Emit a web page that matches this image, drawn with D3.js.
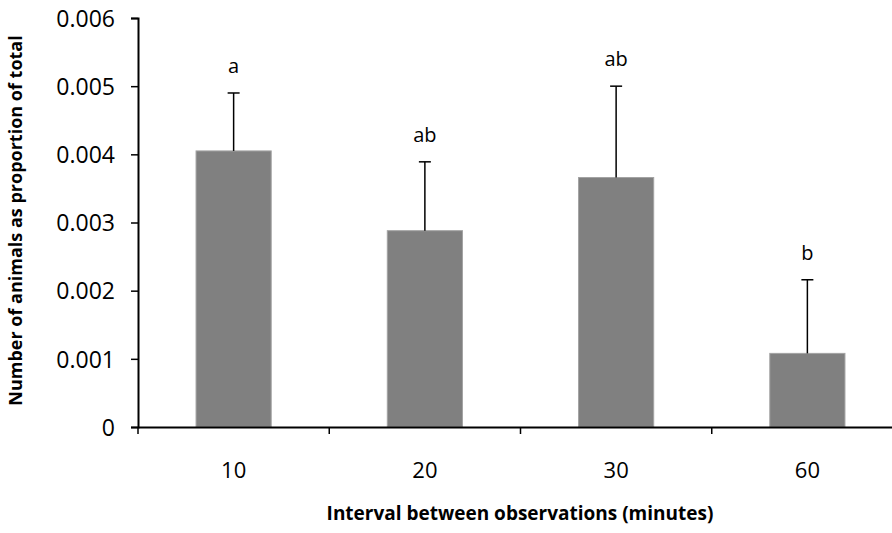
<!DOCTYPE html>
<html>
  <head>
    <title>interval bar chart</title>
    <style>
      body { margin: 0; background: #fff; }
      text { font-family: "Open Sans", sans-serif; fill: #000; }
    </style>
  </head>
  <body>
    <script src="https://cdn.jsdelivr.net/npm/d3@7"></script>
    <script>
      var categories = ["10", "20", "30", "60"];
      var means = [0.00405, 0.00288, 0.00366, 0.00108];
      var errors = [0.00085, 0.00101, 0.00134, 0.00108];
      var letters = ["a", "ab", "ab", "b"];
      var yTicks = [0, 0.001, 0.002, 0.003, 0.004, 0.005, 0.006];

      var w = 892, h = 533;
      var mLeft = 138, mTop = 18, mBottom = 427, mRight = 903;

      var svg = d3.select('body').append('svg').attr('width', w).attr('height', h);

      var x = d3.scaleBand().domain(categories).range([mLeft, mRight])
        .paddingInner(0.607).paddingOuter(0.3035);
      var y = d3.scaleLinear().domain([0, 0.006]).range([mBottom, mTop]);

      // bars
      svg.selectAll("rect.bar").data(means).enter().append("rect")
        .attr("class", "bar")
        .attr("x", function(d, i){ return x(categories[i]); })
        .attr("width", x.bandwidth())
        .attr("y", function(d){ return y(d); })
        .attr("height", function(d){ return y(0) - y(d); })
        .style("fill", "#808080")
        .style("stroke", "#a3a3a3")
        .style("stroke-width", 1);

      // error bars (upper only)
      var cx = function(i){ return x(categories[i]) + x.bandwidth() / 2; };
      var eb = svg.selectAll("g.err").data(means).enter().append("g").attr("class", "err");
      eb.append("line")
        .attr("x1", function(d, i){ return cx(i); })
        .attr("x2", function(d, i){ return cx(i); })
        .attr("y1", function(d){ return y(d); })
        .attr("y2", function(d, i){ return y(d + errors[i]); })
        .style("stroke", "#000").style("stroke-width", 1.5);
      eb.append("line")
        .attr("x1", function(d, i){ return cx(i) - 6; })
        .attr("x2", function(d, i){ return cx(i) + 6; })
        .attr("y1", function(d, i){ return y(d + errors[i]); })
        .attr("y2", function(d, i){ return y(d + errors[i]); })
        .style("stroke", "#000").style("stroke-width", 1.5);

      // significance letters
      svg.selectAll("text.letter").data(letters).enter().append("text")
        .attr("class", "letter")
        .attr("x", function(d, i){ return cx(i); })
        .attr("y", function(d, i){ return y(means[i] + errors[i]) - 20; })
        .attr("text-anchor", "middle")
        .style("font-size", "20px")
        .text(function(d){ return d; });

      // y axis
      var yAxis = svg.append("g").attr("transform", "translate(" + mLeft + ",0)")
        .call(d3.axisLeft(y).tickValues(yTicks).tickSizeOuter(0).tickSize(7).tickPadding(16)
          .tickFormat(function(d){ return d === 0 ? "0" : d3.format(".3f")(d); }));
      yAxis.select(".domain").style("stroke", "#000").style("stroke-width", 2);
      yAxis.selectAll(".tick line").style("stroke", "#000").style("stroke-width", 1.5);
      yAxis.selectAll(".tick text").style("font-size", "23px").attr("dy", "0.36em");

      // x axis
      var xAxis = svg.append("g").attr("transform", "translate(0," + mBottom + ")")
        .call(d3.axisBottom(x).tickSize(0).tickPadding(35));
      xAxis.select(".domain").style("stroke", "#000").style("stroke-width", 2);
      xAxis.selectAll(".tick text").style("font-size", "22px");

      // tick marks between categories
      var bounds = d3.range(categories.length).map(function(i){ return x.range()[0] + i * x.step(); });
      svg.selectAll("line.xtick").data(bounds).enter().append("line")
        .attr("class", "xtick")
        .attr("x1", function(d){ return d; }).attr("x2", function(d){ return d; })
        .attr("y1", mBottom).attr("y2", mBottom + 7)
        .style("stroke", "#000").style("stroke-width", 1.5);

      // axis titles
      svg.append("text")
        .attr("x", 520).attr("y", 520)
        .attr("text-anchor", "middle")
        .style("font-size", "19px").style("font-weight", "bold")
        .text("Interval between observations (minutes)");
      svg.append("text")
        .attr("transform", "translate(22," + ((mTop + mBottom) / 2 - 2) + ") rotate(-90)")
        .attr("text-anchor", "middle")
        .style("font-size", "18px").style("font-weight", "bold")
        .text("Number of animals as proportion of total");
    </script>
  </body>
</html>
